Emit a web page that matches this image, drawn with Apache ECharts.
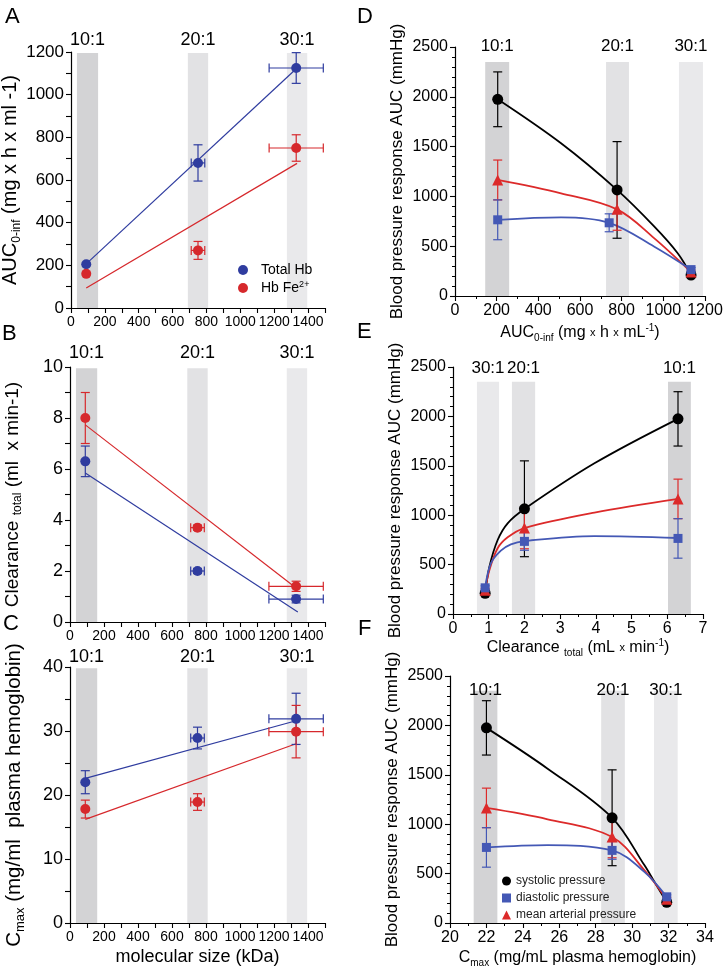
<!DOCTYPE html>
<html><head><meta charset="utf-8">
<script src="https://cdn.jsdelivr.net/npm/echarts@6/dist/echarts.min.js"></script>
<style>html,body{margin:0;padding:0;background:#fff}#c{width:723px;height:970px}</style>
</head><body><div id="c"></div>
<script>
// ---------------- data ----------------
const ratioLabels = ['10:1', '20:1', '30:1'];
// left column: x = molecular size (kDa)
const molSize = [90, 750, 1330];
const molSizeErr = [0, 40, 160];
const aucTotalHb = [205, 680, 1125];
const aucTotalHbErr = [0, 85, 72];
const aucFeHb = [160, 270, 750];
const aucFeHbErr = [0, 42, 62];
const aucTotalFit = [[90, 207], [1335, 1125]];
const aucFeFit = [[90, 94], [1335, 678]];
const clrTotalHb = [6.3, 2.0, 0.9];
const clrTotalHbErr = [0.6, 0.1, 0.15];
const clrFeHb = [8.0, 3.7, 1.4];
const clrFeHbErr = [1.0, 0.1, 0.2];
const clrTotalFit = [[90, 5.84], [1340, 0.39]];
const clrFeFit = [[90, 7.73], [1330, 1.33]];
const cmaxTotalHb = [22.0, 28.9, 31.9];
const cmaxTotalHbErr = [1.8, 1.7, 4.0];
const cmaxFeHb = [17.8, 18.9, 29.9];
const cmaxFeHbErr = [1.4, 1.3, 4.1];
const cmaxTotalFit = [[90, 22.6], [1330, 31.6]];
const cmaxFeFit = [[90, 16.2], [1330, 28.0]];
// shaded bands, ordered as ratioLabels
const bandsMol = [[35, 160], [690, 810], [1275, 1395]];
const bandsAuc = [[145, 260], [725, 835], [1075, 1190]];
const bandsClr = [[6.02, 6.66], [1.65, 2.3], [0.67, 1.29]];
const bandsCmax = [[21.3, 22.6], [28.3, 29.6], [31.2, 32.5]];
// right column: blood pressure response AUC (mmHg)
const bpSystolic = [1975, 1065, 210];
const bpSystolicErr = [275, 485, 20];
const bpDiastolic = [765, 735, 265];
const bpDiastolicErr = [200, 90, 20];
const bpMean = [1165, 870, 240];
const bpMeanErr = [200, 210, 20];
const aucX = [205, 778, 1133];
const aucXDia = [205, 740, 1133];
const clrX = [6.3, 2.0, 0.9];
const cmaxX = [22.0, 28.9, 31.9];
// fitted curves
const sysCurveD = [[205, 1975], [509, 1533], [778, 1065], [957, 696], [1069, 429], [1133, 210]];
const mapCurveD = [[205, 1165], [509, 1031], [778, 870], [957, 579], [1133, 240]];
const diaCurveD = [[205, 765], [509, 790], [740, 735], [957, 495], [1133, 265]];
const sysCurveE = [[0.9, 210], [1.02, 479], [1.25, 749], [1.53, 918], [2.0, 1063], [3.96, 1525], [6.3, 1975]];
const mapCurveE = [[0.9, 240], [1.02, 445], [1.25, 665], [1.53, 776], [2.0, 870], [3.96, 1026], [6.3, 1165]];
const diaCurveE = [[0.9, 265], [1.06, 513], [1.34, 641], [1.62, 705], [2.0, 738], [3.96, 789], [6.3, 769]];
const sysCurveF = [[22, 1975], [25.36, 1562], [28.9, 1065], [30.67, 586], [31.22, 417], [31.9, 210]];
const mapCurveF = [[22, 1165], [25.36, 1050], [28.9, 870], [30.67, 535], [31.9, 240]];
const diaCurveF = [[22, 765], [25.36, 788], [28.9, 735], [30.67, 518], [31.9, 265]];

// ---------------- style ----------------
const FONT = 'Liberation Sans, Arial, Helvetica, sans-serif';
const BLUE_L = '#2f3c9f', RED_L = '#d6282c';
const BLUE_R = '#4458b5', RED_R = '#dc2a2a', BLACK = '#000';
const BAND_COLORS = ['#d3d3d5', '#e2e2e4', '#e9e9eb'];

const chart = echarts.init(document.getElementById('c'), null, {renderer: 'canvas'});

const grids = [
  {left: 71, top: 52, width: 254, height: 256},
  {left: 70, top: 367, width: 255, height: 255},
  {left: 70, top: 667, width: 255, height: 256},
  {left: 455, top: 47, width: 250, height: 249},
  {left: 453, top: 367, width: 250, height: 247},
  {left: 450, top: 676, width: 255, height: 247}
].map(g => Object.assign({outerBoundsMode: 'none', containLabel: false}, g));

function baseAxis(gi, fs) {
  return {
    gridIndex: gi, type: 'value',
    axisLine: {show: true, onZero: false, lineStyle: {color: '#000', width: 1.2}},
    axisTick: {show: true, length: 5, lineStyle: {color: '#000', width: 1.1}},
    splitLine: {show: false},
    axisLabel: {color: '#000', fontSize: fs, fontFamily: FONT, margin: 7, formatter: v => String(v)},
    nameTextStyle: {color: '#000', fontFamily: FONT}
  };
}
const titleRich = (fs) => ({
  a: {fontSize: fs, lineHeight: fs + 4, fontFamily: FONT, color: '#000'},
  s: {fontSize: Math.round(fs * 0.62), lineHeight: Math.round(fs * 0.62), verticalAlign: 'bottom', fontFamily: FONT, color: '#000'},
  p: {fontSize: Math.round(fs * 0.62), lineHeight: Math.round(fs * 0.62), verticalAlign: 'top', fontFamily: FONT, color: '#000'},
  x: {fontSize: Math.round(fs * 0.7), lineHeight: fs + 4, fontFamily: FONT, color: '#000'}
});

function leftX(gi, name) {
  const ax = baseAxis(gi, 14);
  Object.assign(ax, {min: 0, max: 1500, interval: 100});
  ax.axisLabel.formatter = v => (v % 200 === 0 && v < 1500) ? String(v) : '';
  if (name) {
    ax.name = name; ax.nameLocation = 'middle'; ax.nameGap = 25;
    ax.nameTextStyle.fontSize = 18;
  }
  return ax;
}
function leftY(gi, max, step, labStep, fs, name, gap, tfs) {
  const ax = baseAxis(gi, fs);
  Object.assign(ax, {min: 0, max: max, interval: step});
  ax.axisLabel.formatter = v => (Math.abs(v / labStep - Math.round(v / labStep)) < 1e-6) ? String(v) : '';
  ax.name = name; ax.nameLocation = 'middle'; ax.nameGap = gap;
  ax.nameTextStyle.rich = titleRich(tfs);
  return ax;
}
function rightX(gi, min, max, interval, name, gap) {
  const ax = baseAxis(gi, 16);
  Object.assign(ax, {min: min, max: max, interval: interval});
  ax.minorTick = {show: true, splitNumber: 2, length: 3, lineStyle: {color: '#000', width: 1}};
  ax.name = name; ax.nameLocation = 'middle'; ax.nameGap = gap;
  ax.nameTextStyle.rich = titleRich(16);
  return ax;
}
function rightY(gi) {
  const ax = baseAxis(gi, 16);
  Object.assign(ax, {min: 0, max: 2500, interval: 500});
  ax.minorTick = {show: true, splitNumber: 5, length: 3, lineStyle: {color: '#000', width: 1}};
  ax.name = '{a|Blood pressure response AUC (mmHg)}'; ax.nameLocation = 'middle'; ax.nameGap = 47;
  ax.nameTextStyle.rich = titleRich(17);
  return ax;
}

const xAxes = [
  leftX(0), leftX(1), leftX(2, 'molecular size (kDa)'),
  rightX(3, 0, 1200, 200, '{a|AUC}{s|0-inf}{a| (mg }{x|x}{a| h }{x|x}{a| mL}{p|-1}{a|)}', 27),
  rightX(4, 0, 7, 1, '{a|Clearance }{s|total}{a| (mL }{x|x}{a| min}{p|-1}{a|)}', 19),
  rightX(5, 20, 34, 2, '{a|C}{s|max}{a| (mg/mL plasma hemoglobin)}', 25)
];
const yAxes = [
  leftY(0, 1200, 100, 200, 17, '{a|AUC}{s|0-inf}{a| (mg x h x ml -1)}', 46, 20),
  leftY(1, 10, 1, 2, 18, '{a|Clearance }{s|total}{a| (ml  x min-1)}', 46, 19),
  leftY(2, 40, 5, 10, 18, '{a|C}{s|max}{a| (mg/ml  plasma hemoglobin)}', 43, 20.5),
  rightY(3), rightY(4), rightY(5)
];

function bandSeries(gi, bands, top, dist, fs) {
  return {
    type: 'line', xAxisIndex: gi, yAxisIndex: gi, data: [], silent: true, z: 0,
    markArea: {
      silent: true,
      data: bands.map((b, i) => [
        {name: ratioLabels[i], xAxis: b[0], yAxis: 0, itemStyle: {color: BAND_COLORS[i]},
         label: {show: true, position: 'top', distance: dist, color: '#000', fontSize: fs, fontFamily: FONT}},
        {xAxis: b[1], yAxis: top}
      ])
    }
  };
}
function fitSeries(gi, pts, color, width, smooth) {
  return {
    type: 'line', xAxisIndex: gi, yAxisIndex: gi, data: pts, showSymbol: false, symbol: 'none',
    smooth: smooth || false, silent: true, z: 2,
    lineStyle: {color: color, width: width}
  };
}
function errSeries(gi, xs, ys, exs, eys, color, capPx) {
  const data = xs.map((x, i) => [x, ys[i], exs ? exs[i] : 0, eys ? eys[i] : 0]);
  return {
    type: 'custom', xAxisIndex: gi, yAxisIndex: gi, z: 3, silent: true,
    encode: {x: 0, y: 1}, data: data,
    renderItem: function (params, api) {
      const x = api.value(0), y = api.value(1), ex = api.value(2), ey = api.value(3);
      const c = api.coord([x, y]);
      const st = {stroke: color, lineWidth: 1.2, fill: null};
      const h = capPx / 2;
      const ch = [];
      if (ey > 0) {
        const t = api.coord([x, y + ey]), b = api.coord([x, y - ey]);
        ch.push({type: 'line', shape: {x1: c[0], y1: t[1], x2: c[0], y2: b[1]}, style: st});
        ch.push({type: 'line', shape: {x1: c[0] - h, y1: t[1], x2: c[0] + h, y2: t[1]}, style: st});
        ch.push({type: 'line', shape: {x1: c[0] - h, y1: b[1], x2: c[0] + h, y2: b[1]}, style: st});
      }
      if (ex > 0) {
        const l = api.coord([x - ex, y]), r = api.coord([x + ex, y]);
        ch.push({type: 'line', shape: {x1: l[0], y1: c[1], x2: r[0], y2: c[1]}, style: st});
        ch.push({type: 'line', shape: {x1: l[0], y1: c[1] - h, x2: l[0], y2: c[1] + h}, style: st});
        ch.push({type: 'line', shape: {x1: r[0], y1: c[1] - h, x2: r[0], y2: c[1] + h}, style: st});
      }
      return {type: 'group', children: ch};
    }
  };
}
function ptSeries(gi, name, xs, ys, color, symbol, size) {
  return {
    type: 'scatter', name: name, xAxisIndex: gi, yAxisIndex: gi, z: 4,
    data: xs.map((x, i) => [x, ys[i]]), symbol: symbol, symbolSize: size,
    itemStyle: {color: color, opacity: 1}
  };
}

const series = [];
// ----- A -----
series.push(bandSeries(0, bandsMol, 1195, 4, 18));
series.push(fitSeries(0, aucTotalFit, BLUE_L, 1.2));
series.push(fitSeries(0, aucFeFit, RED_L, 1.2));
series.push(errSeries(0, molSize, aucTotalHb, molSizeErr, aucTotalHbErr, BLUE_L, 9));
series.push(errSeries(0, molSize, aucFeHb, molSizeErr, aucFeHbErr, RED_L, 9));
series.push(ptSeries(0, 'Total Hb', molSize, aucTotalHb, BLUE_L, 'circle', 10));
series.push(ptSeries(0, 'Hb Fe2+', molSize, aucFeHb, RED_L, 'circle', 10));
// ----- B -----
series.push(bandSeries(1, bandsMol, 9.95, 6, 18));
series.push(fitSeries(1, clrTotalFit, BLUE_L, 1.2));
series.push(fitSeries(1, clrFeFit, RED_L, 1.2));
series.push(errSeries(1, molSize, clrTotalHb, molSizeErr, clrTotalHbErr, BLUE_L, 9));
series.push(errSeries(1, molSize, clrFeHb, molSizeErr, clrFeHbErr, RED_L, 9));
series.push(ptSeries(1, 'Total Hb', molSize, clrTotalHb, BLUE_L, 'circle', 10));
series.push(ptSeries(1, 'Hb Fe2+', molSize, clrFeHb, RED_L, 'circle', 10));
// ----- C -----
series.push(bandSeries(2, bandsMol, 39.8, 2, 18));
series.push(fitSeries(2, cmaxTotalFit, BLUE_L, 1.2));
series.push(fitSeries(2, cmaxFeFit, RED_L, 1.2));
series.push(errSeries(2, molSize, cmaxTotalHb, molSizeErr, cmaxTotalHbErr, BLUE_L, 9));
series.push(errSeries(2, molSize, cmaxFeHb, molSizeErr, cmaxFeHbErr, RED_L, 9));
series.push(ptSeries(2, 'Total Hb', molSize, cmaxTotalHb, BLUE_L, 'circle', 10));
series.push(ptSeries(2, 'Hb Fe2+', molSize, cmaxFeHb, RED_L, 'circle', 10));
// ----- D, E, F -----
const rightPanels = [
  {gi: 3, bands: bandsAuc, dist: 7, xs: aucX, xsDia: aucXDia, curves: [sysCurveD, mapCurveD, diaCurveD]},
  {gi: 4, bands: bandsClr, dist: 5, xs: clrX, xsDia: clrX, curves: [sysCurveE, mapCurveE, diaCurveE]},
  {gi: 5, bands: bandsCmax, dist: -8, xs: cmaxX, xsDia: cmaxX, curves: [sysCurveF, mapCurveF, diaCurveF]}
];
rightPanels.forEach(p => {
  series.push(bandSeries(p.gi, p.bands, 2350, p.dist, 17));
  series.push(fitSeries(p.gi, p.curves[0], BLACK, 1.8, 0.35));
  series.push(fitSeries(p.gi, p.curves[1], RED_R, 1.8, 0.35));
  series.push(fitSeries(p.gi, p.curves[2], BLUE_R, 1.8, 0.35));
  series.push(errSeries(p.gi, p.xs, bpSystolic, null, bpSystolicErr, BLACK, 9));
  series.push(errSeries(p.gi, p.xs, bpMean, null, bpMeanErr, RED_R, 9));
  series.push(errSeries(p.gi, p.xsDia, bpDiastolic, null, bpDiastolicErr, BLUE_R, 9));
  series.push(ptSeries(p.gi, 'systolic pressure', p.xs, bpSystolic, BLACK, 'circle', 11));
  series.push(ptSeries(p.gi, 'mean arterial pressure', p.xs, bpMean, RED_R, 'triangle', 11));
  series.push(ptSeries(p.gi, 'diastolic pressure', p.xsDia, bpDiastolic, BLUE_R, 'rect', 9));
});

const letter = (t, l, tp) => ({type: 'text', left: l, top: tp, style: {text: t, fontSize: 22, fontFamily: FONT, fill: '#000'}});

chart.setOption({
  animation: false,
  backgroundColor: '#fff',
  grid: grids,
  xAxis: xAxes,
  yAxis: yAxes,
  legend: [
    {
      data: ['Total Hb', 'Hb Fe2+'], orient: 'vertical', left: 233, top: 258,
      itemWidth: 10, itemHeight: 10, itemGap: 3, selectedMode: false,
      formatter: n => n === 'Hb Fe2+' ? '{a|Hb Fe}{p|2+}' : '{a|' + n + '}',
      textStyle: {fontFamily: FONT, fontSize: 14, color: '#000', padding: [0, 0, 0, 8],
        rich: {a: {fontSize: 14, lineHeight: 16, fontFamily: FONT, color: '#000'},
               p: {fontSize: 9, lineHeight: 9, verticalAlign: 'top', fontFamily: FONT, color: '#000'}}}
    },
    {
      data: ['systolic pressure', 'diastolic pressure', 'mean arterial pressure'],
      orient: 'vertical', left: 497, top: 869, itemWidth: 9, itemHeight: 9, itemGap: 3, selectedMode: false,
      textStyle: {fontFamily: FONT, fontSize: 12, lineHeight: 14, color: '#222'}
    }
  ],
  graphic: [letter('A', 5, 6), letter('B', 2, 323), letter('C', 3, 613),
            letter('D', 357, 6), letter('E', 357, 321), letter('F', 358, 618)],
  series: series
});
</script>
</body></html>
